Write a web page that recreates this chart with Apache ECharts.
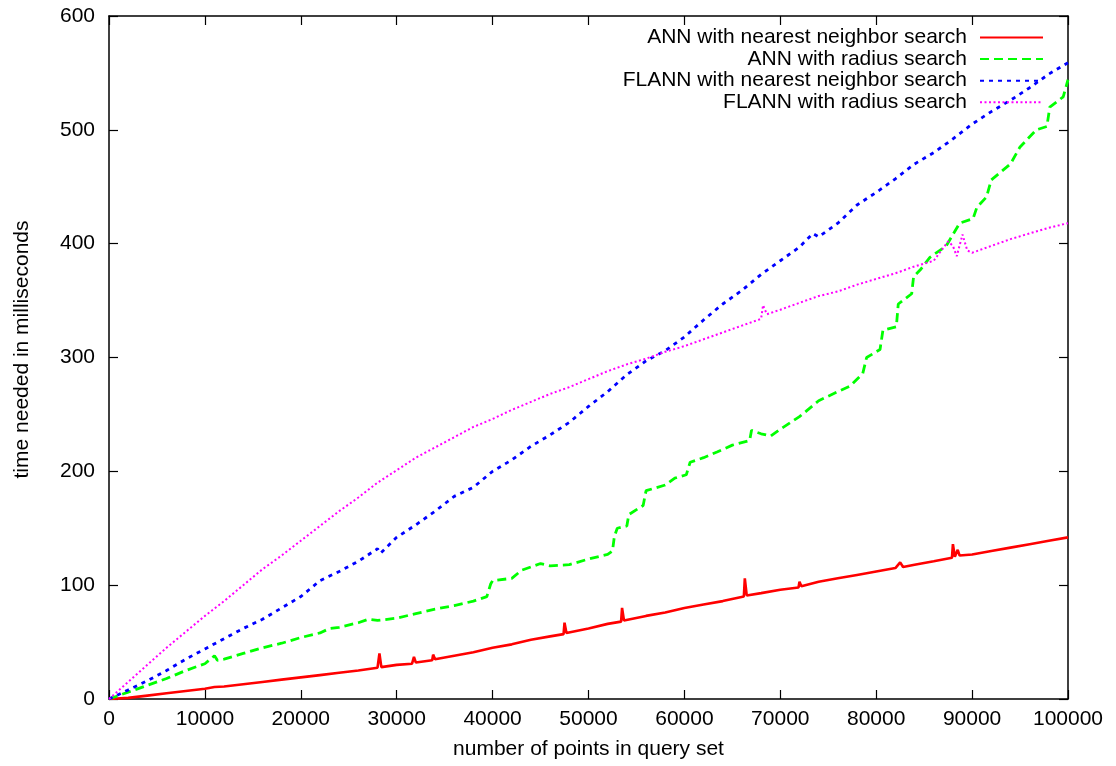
<!DOCTYPE html>
<html lang="en">
<head>
<meta charset="UTF-8">
<title>ANN vs FLANN</title>
<script src="https://cdn.jsdelivr.net/npm/echarts@6/dist/echarts.min.js"></script>
<style>
  html, body { margin: 0; padding: 0; background: #fff; }
  #chart { width: 1116px; height: 766px; }
</style>
</head>
<body>
<div id="chart"></div>
<script type="text/javascript">
// series names
var seriesNames = [
  'ANN with nearest neighbor search',
  'ANN with radius search',
  'FLANN with nearest neighbor search',
  'FLANN with radius search'
];

// [points in query set, milliseconds]
var annNearest = [
  [0,0],[2000,1],[4000,3],[6000,5],[8000,7],[10000,9],[11000,10.5],[12000,11],[14000,13],[16000,15],
  [18000,17],[20000,19],[22000,21],[24000,23],[26000,25],[28000,27.5],[28200,40],[28400,28],
  [30000,30],[31600,31],[31800,37],[32000,32],[33700,34],[33800,39],[34000,35],[36000,38],
  [38000,41],[40000,45],[42000,48],[44000,52],[46000,55],[47400,57],[47500,67],[47700,58],
  [50000,62],[52000,66],[53400,68],[53500,80],[53700,69],[56000,73],[58000,76],[60000,80],
  [62000,83],[64000,86],[66200,90],[66300,106],[66500,91],[68000,93],[70000,96],[71900,98],
  [72000,103],[72200,99],[74000,103],[76000,106],[78000,109],[80000,112],[82000,115],
  [82500,120],[82800,116],[84000,118],[86000,121],[87900,124],[88000,136],[88200,125],
  [88500,131],[88700,126],[90000,127],[92000,130],[94000,133],[96000,136],[98000,139],
  [100000,142]
];

var annRadius = [
  [0,0],[2000,6],[4000,12],[6000,18],[8000,25],[10000,31],[11000,38],[11300,34],[12000,35],
  [14000,40],[16000,45],[18000,49],[20000,54],[22000,58],[23000,62],[24000,63],[26000,67],
  [27000,70],[28000,69],[30000,71],[32000,75],[34000,79],[36000,82],[38000,86],[39400,90],
  [39800,101],[40000,104],[42000,106],[43000,113],[44000,116],[45000,119],[46000,117],
  [48000,118],[50000,123],[52000,127],[52500,130],[52700,143],[53000,150],[54000,152],
  [54200,162],[55700,170],[56000,183],[58000,188],[59000,194],[60200,197],[60600,208],
  [62000,212],[63400,217],[65000,223],[66800,227],[67000,236],[68000,233],[69000,231],
  [70000,237],[72000,248],[74000,262],[76000,270],[77300,275],[78600,286],[79000,300],
  [80400,307],[80700,324],[82100,327],[82300,347],[83700,356],[83900,371],[84600,377],
  [85600,388],[87300,398],[88700,418],[90100,422],[90500,432],[91500,441],[92000,456],
  [94000,470],[95000,485],[96700,500],[97800,503],[98100,520],[99500,529],[100000,544]
];

var flannNearest = [
  [0,0],[2000,8],[4000,16],[6000,25],[8000,35],[10000,44],[12000,53],[14000,62],[16000,70],
  [18000,80],[20000,90],[22000,104],[24000,112],[26000,121],[28000,132],[28300,128],
  [30000,142],[32000,153],[34000,165],[36000,178],[38000,186],[40000,200],[42000,210],
  [44000,222],[46000,232],[48000,243],[50000,257],[52000,270],[54000,285],[56000,297],
  [58000,306],[60000,318],[62000,333],[64000,347],[66000,359],[68000,373],[70000,385],
  [72000,397],[73400,409],[74000,406],[76000,418],[78000,434],[80000,445],[82000,457],
  [84000,470],[86000,480],[88000,492],[90000,505],[92000,516],[94000,526],[96000,537],
  [98000,549],[100000,559]
];

var flannRadius = [
  [0,0],[2000,15],[4000,30],[6000,45],[8000,59],[10000,73],[12000,86],[14000,100],
  [16000,114],[18000,126],[20000,139],[22000,152],[24000,165],[26000,177],[28000,190],
  [30000,201],[32000,212],[34000,221],[36000,230],[38000,239],[40000,246],[42000,254],
  [44000,261],[46000,268],[48000,274],[50000,281],[52000,288],[54000,294],[56000,299],
  [58000,305],[60000,310],[62000,316],[64000,322],[66000,328],[68000,334],[68200,346],
  [68600,338],[70000,342],[72000,348],[74000,354],[76000,358],[78000,364],[80000,369],
  [82000,374],[84000,380],[86000,385],[87500,402],[88000,398],[88400,389],[89000,408],
  [89500,394],[90000,392],[92000,398],[94000,404],[96000,409],[98000,414],[100000,418]
];

var xTickStep = 10000;
var yTickStep = 100;

var fontName = '"Liberation Sans", Arial, Helvetica, sans-serif';
var fontSize = 21;

var myChart = echarts.init(document.getElementById('chart'), null, { renderer: 'canvas' });

function axisBase(extra) {
  var base = {
    type: 'value',
    axisLine: { show: true, onZero: false, lineStyle: { color: '#000', width: 1.5 } },
    axisTick: { show: true, inside: true, length: 9, lineStyle: { color: '#000', width: 1.2 } },
    splitLine: { show: false }
  };
  for (var k in extra) base[k] = extra[k];
  return base;
}

function plain(v) { return String(v); }

myChart.setOption({
  animation: false,
  backgroundColor: '#fff',
  grid: { left: 109, right: 48, top: 16, bottom: 67, containLabel: false, outerBoundsMode: 'none' },
  legend: {
    orient: 'vertical',
    right: 67,
    top: 22,
    align: 'right',
    itemWidth: 63,
    itemHeight: 14,
    itemGap: 0.6,
    itemStyle: { opacity: 0 },
    textStyle: { fontSize: fontSize, color: '#000', fontFamily: fontName, padding: [0, 8, 0, 0] },
    data: seriesNames
  },
  xAxis: [
    axisBase({
      min: 0, max: 100000, interval: xTickStep,
      name: 'number of points in query set',
      nameLocation: 'middle', nameGap: 40,
      nameTextStyle: { color: '#000', fontSize: fontSize, fontFamily: fontName },
      axisLabel: { color: '#000', fontSize: fontSize, fontFamily: fontName, margin: 10, formatter: plain }
    }),
    axisBase({
      position: 'top', min: 0, max: 100000, interval: xTickStep,
      axisLabel: { show: false }
    })
  ],
  yAxis: [
    axisBase({
      min: 0, max: 600, interval: yTickStep,
      name: 'time needed in milliseconds',
      nameLocation: 'middle', nameGap: 76,
      nameTextStyle: { color: '#000', fontSize: fontSize, fontFamily: fontName, padding: [0, 0, 0, 16] },
      axisLabel: { color: '#000', fontSize: fontSize, fontFamily: fontName, margin: 14, formatter: plain }
    }),
    axisBase({
      position: 'right', min: 0, max: 600, interval: yTickStep,
      axisLabel: { show: false }
    })
  ],
  series: [
    {
      name: seriesNames[0], type: 'line', data: annNearest, symbol: 'none',
      lineStyle: { color: '#ff0000', width: 2.6, type: 'solid' },
      itemStyle: { color: '#ff0000' }
    },
    {
      name: seriesNames[1], type: 'line', data: annRadius, symbol: 'none',
      lineStyle: { color: '#00ff00', width: 2.8, type: [9, 5] },
      itemStyle: { color: '#00ff00' }
    },
    {
      name: seriesNames[2], type: 'line', data: flannNearest, symbol: 'none',
      lineStyle: { color: '#0000ff', width: 2.8, type: [4, 5] },
      itemStyle: { color: '#0000ff' }
    },
    {
      name: seriesNames[3], type: 'line', data: flannRadius, symbol: 'none',
      lineStyle: { color: '#ff00ff', width: 2, type: [2, 2.5] },
      itemStyle: { color: '#ff00ff' }
    }
  ]
});
</script>
</body>
</html>
